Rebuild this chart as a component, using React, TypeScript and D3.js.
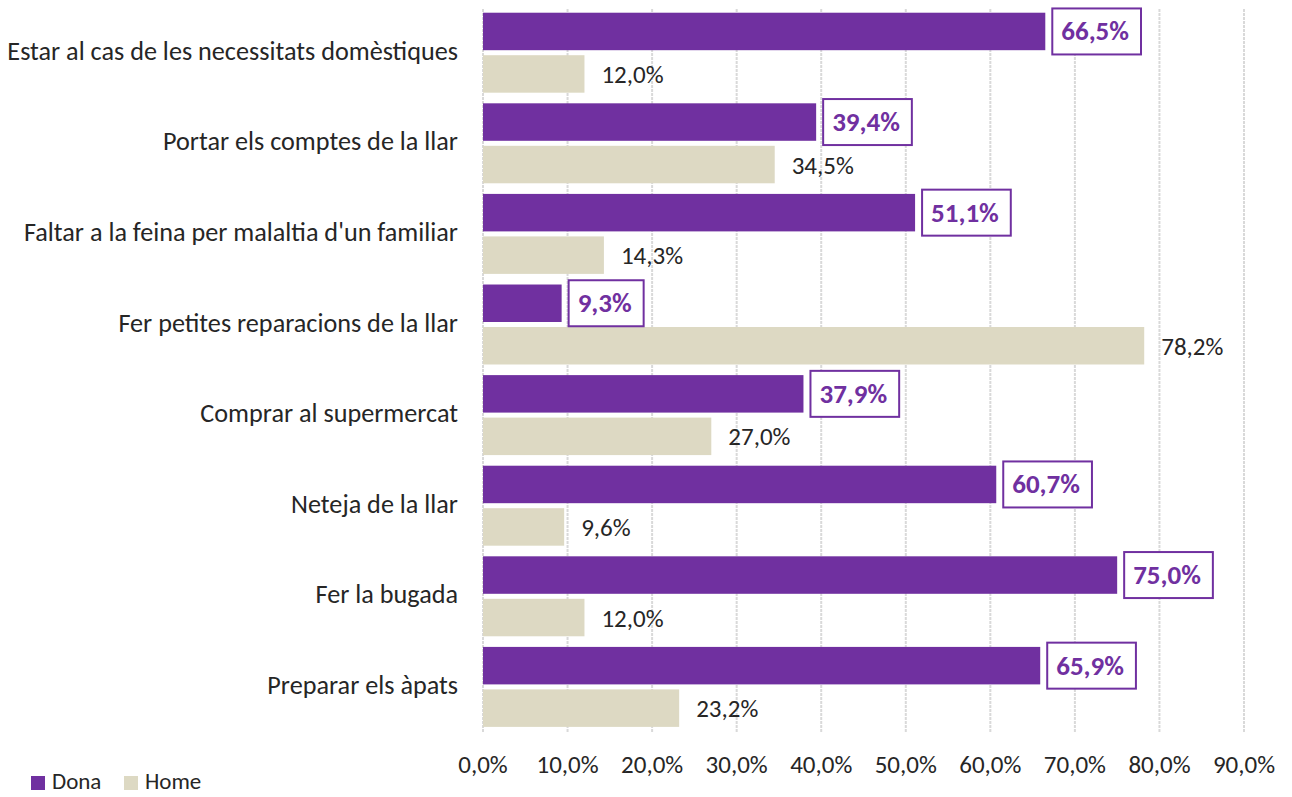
import { useEffect, useRef } from "react";
import * as d3 from "d3";

const categories = [
  "Estar al cas de les necessitats domèstiques",
  "Portar els comptes de la llar",
  "Faltar a la feina per malaltia d'un familiar",
  "Fer petites reparacions de la llar",
  "Comprar al supermercat",
  "Neteja de la llar",
  "Fer la bugada",
  "Preparar els àpats",
];
const dona = [66.5, 39.4, 51.1, 9.3, 37.9, 60.7, 75.0, 65.9];
const home = [12.0, 34.5, 14.3, 78.2, 27.0, 9.6, 12.0, 23.2];
const ticks = [0, 10, 20, 30, 40, 50, 60, 70, 80, 90];

const PURPLE = "#7030A0";
const BEIGE = "#DDD9C3";
const FONT = "Carlito, Calibri, 'Open Sans', sans-serif";

const fmt = (v: number) => v.toFixed(1).replace(".", ",") + "%";

export default function App() {
  const ref = useRef<SVGSVGElement>(null);

  useEffect(() => {
    const width = 1292,
      height = 797;
    const svg = d3.select(ref.current);
    svg.selectAll("*").remove();

    const x = d3.scaleLinear().domain([0, 90]).range([483, 1244]);
    const y = d3.scaleBand().domain(categories).range([7.4, 732.2]);
    const inner = d3
      .scaleBand()
      .domain(["dona", "home"])
      .range([0, y.bandwidth()])
      .paddingInner(0.118)
      .paddingOuter(0.125);
    const bw = inner.bandwidth();

    // gridlines
    svg
      .append("g")
      .selectAll("line")
      .data(ticks)
      .enter()
      .append("line")
      .attr("x1", (d) => x(d))
      .attr("x2", (d) => x(d))
      .attr("y1", 9)
      .attr("y2", 733)
      .attr("stroke", "#d9d9d9")
      .attr("stroke-width", 2)
      .attr("stroke-dasharray", "3,1");

    // tick labels
    svg
      .append("g")
      .selectAll("text")
      .data(ticks)
      .enter()
      .append("text")
      .attr("x", (d) => x(d))
      .attr("y", 773)
      .attr("text-anchor", "middle")
      .style("font-family", FONT)
      .style("font-size", "25px")
      .style("fill", "#262626")
      .text((d) => fmt(d));

    // category labels
    svg
      .append("g")
      .selectAll("text")
      .data(categories)
      .enter()
      .append("text")
      .attr("x", 458)
      .attr("y", (d) => (y(d) as number) + y.bandwidth() / 2 + 7)
      .attr("text-anchor", "end")
      .style("font-family", FONT)
      .style("font-size", "26.2px")
      .style("fill", "#262626")
      .text((d) => d);

    const rows = categories.map((c, i) => ({ c, dona: dona[i], home: home[i] }));

    // home bars
    svg
      .append("g")
      .selectAll("rect")
      .data(rows)
      .enter()
      .append("rect")
      .attr("x", x(0))
      .attr("y", (d) => (y(d.c) as number) + (inner("home") as number))
      .attr("width", (d) => x(d.home) - x(0))
      .attr("height", bw)
      .attr("fill", BEIGE);

    svg
      .append("g")
      .selectAll("text")
      .data(rows)
      .enter()
      .append("text")
      .attr("x", (d) => x(d.home) + 17)
      .attr("y", (d) => (y(d.c) as number) + (inner("home") as number) + bw / 2 + 9)
      .style("font-family", FONT)
      .style("font-size", "25px")
      .style("fill", "#262626")
      .text((d) => fmt(d.home));

    // dona bars
    svg
      .append("g")
      .selectAll("rect")
      .data(rows)
      .enter()
      .append("rect")
      .attr("x", x(0))
      .attr("y", (d) => (y(d.c) as number) + (inner("dona") as number))
      .attr("width", (d) => x(d.dona) - x(0))
      .attr("height", bw)
      .attr("fill", PURPLE);

    const lbl = svg
      .append("g")
      .selectAll("g")
      .data(rows)
      .enter()
      .append("g")
      .attr(
        "transform",
        (d) => `translate(${x(d.dona) + 7},${(y(d.c) as number) + (inner("dona") as number) + bw / 2})`
      );

    lbl
      .append("text")
      .attr("x", 9)
      .attr("y", 9)
      .style("font-family", FONT)
      .style("font-size", "27px")
      .style("font-weight", "bold")
      .style("fill", PURPLE)
      .text((d) => fmt(d.dona))
      .each(function () {
        const t = this as SVGTextElement;
        const w = t.getComputedTextLength();
        d3.select(t.parentNode as SVGGElement)
          .insert("rect", "text")
          .attr("x", 0)
          .attr("y", -23)
          .attr("width", w + 21)
          .attr("height", 46)
          .attr("fill", "#fff")
          .attr("stroke", PURPLE)
          .attr("stroke-width", 2);
      });

    // legend
    const legend = svg.append("g").attr("transform", "translate(31,776)");
    [
      { name: "Dona", color: PURPLE, x: 0 },
      { name: "Home", color: BEIGE, x: 93 },
    ].forEach((d) => {
      legend
        .append("rect")
        .attr("x", d.x)
        .attr("y", 0)
        .attr("width", 14)
        .attr("height", 14)
        .attr("fill", d.color);
      legend
        .append("text")
        .attr("x", d.x + 21)
        .attr("y", 13)
        .style("font-family", FONT)
        .style("font-size", "23px")
        .style("fill", "#262626")
        .text(d.name);
    });

    svg.attr("width", width).attr("height", height);
  }, []);

  return <svg ref={ref} style={{ position: "absolute", left: 0, top: 0 }} />;
}
